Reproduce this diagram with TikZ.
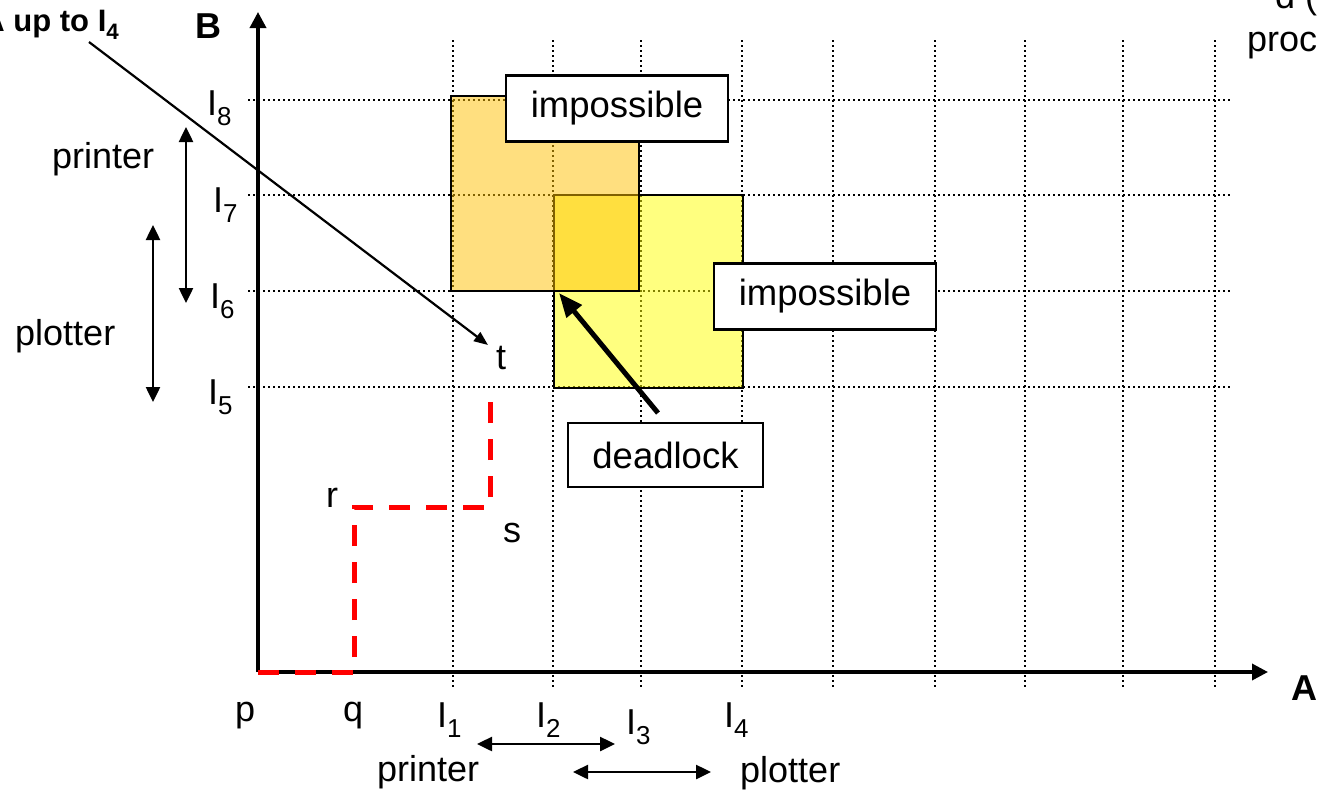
\documentclass[tikz,border=0pt]{standalone}
\usepackage{fontspec}
\setmainfont{Liberation Sans}
\usepackage{graphicx}
\usetikzlibrary{arrows.meta}
\newcommand\sbx[1]{\raisebox{-0.28em}{\scalebox{0.72}{#1}}}
\definecolor{orfill}{RGB}{255,192,0}
\definecolor{yefill}{RGB}{255,255,0}
\definecolor{dashred}{RGB}{255,0,0}
\begin{document}
\begin{tikzpicture}[x=1pt,y=-1pt,
  lbl/.style={inner sep=0pt, anchor=base west, font=\fontsize{36}{43}\selectfont},
  blbl/.style={inner sep=0pt, anchor=base west, font=\fontsize{36}{43}\selectfont\bfseries},
  gridline/.style={line width=2.4pt, dash pattern=on 2.4pt off 2.6pt},
  region/.style={draw=black, line width=2.5pt, fill opacity=0.5},
  tagbox/.style={draw=black, fill=white, line width=2.5pt, inner sep=0pt,
    font=\fontsize{36.5}{43}\selectfont},
  axis/.style={line width=3.5pt, -{Triangle[length=16pt,width=16pt]}},
  span/.style={line width=2.5pt, {Triangle[length=15pt,width=14pt]}-{Triangle[length=15pt,width=14pt]}},
  pathred/.style={dashred, line width=5pt, dash pattern=on 21pt off 16pt, line join=miter}]
\useasboundingbox (0,0) rectangle (1317,790);

% grid
\foreach \x in {453,553,641,742,833,935,1025,1123,1215}
  \draw[gridline] (\x,40) -- (\x,688);
\foreach \y in {100,195,291,387}
  \draw[gridline] (248,\y) -- (1230,\y);

% regions
\path[region, fill=yefill] (554,195) rectangle (743,388);
\path[region, fill=orfill] (451,96) rectangle (639,291);

% axes
\coordinate (O) at (258,672);
\coordinate (Btip) at (258,12);
\coordinate (Atip) at (1268,672);
\draw[axis] (O) -- (Btip);
\draw[axis] (O) -- (Atip);

% red progress path
\coordinate (q0) at (354,672);
\coordinate (r0) at (354,507);
\coordinate (s0) at (490,507);
\coordinate (t0) at (490,388);
\draw[pathred] (O) -- (q0) -- (r0) -- (s0) -- (t0);

% boxes
\node[tagbox, minimum width=222pt, minimum height=66pt] (imp1) at (617,108.5) {impossible};
\node[tagbox, minimum width=222pt, minimum height=66pt] (imp2) at (825,296.5) {impossible};
\node[tagbox, minimum width=195pt, minimum height=64pt] (dead) at (665.5,455) {deadlock};

% deadlock arrow
\coordinate (dlstart) at (658,413);
\coordinate (dl) at (559,293);
\draw[line width=5pt, -{Triangle[length=24pt,width=19pt]}] (dlstart) -- (dl);

% A up to I4 arrow
\node[inner sep=0pt, anchor=base east, font=\fontsize{31}{36}\selectfont\bfseries] (aupto) at (119,31) {A up to I\sbx{4}};
\coordinate (aup) at (89,42);
\coordinate (tt) at (488,345);
\draw[line width=2.2pt, -{Triangle[length=14pt,width=11pt]}] (aup) -- (tt);

% spans
\coordinate (prT) at (186,127); \coordinate (prB) at (186,303);
\coordinate (plT) at (153,225); \coordinate (plB) at (153,402);
\draw[span] (prT) -- (prB);
\draw[span] (plT) -- (plB);
\coordinate (prL) at (477,744); \coordinate (prR) at (615,744);
\coordinate (plL) at (573,772); \coordinate (plR) at (711,772);
\draw[span] (prL) -- (prR);
\draw[span] (plL) -- (plR);

% labels
\node[blbl] (Blab) at (195,38) {B};
\node[blbl] (Alab) at (1291,700) {A};
\node[lbl] (tr1) at (1275,8) {d (};
\node[lbl] (tr2) at (1247,51) {proc};

\node[lbl] (I8) at (207,115) {I\sbx{8}};
\node[lbl] (I7) at (213,212) {I\sbx{7}};
\node[lbl] (I6) at (210,308) {I\sbx{6}};
\node[lbl] (I5) at (208,404) {I\sbx{5}};

\node[lbl] (plab) at (235,721) {p};
\node[lbl] (qlab) at (343,721) {q};
\node[lbl] (I1) at (437,727) {I\sbx{1}};
\node[lbl] (I2) at (536,727) {I\sbx{2}};
\node[lbl] (I3) at (626,734) {I\sbx{3}};
\node[lbl] (I4) at (724,727) {I\sbx{4}};

\node[lbl] (prtL) at (52,168) {printer};
\node[lbl] (pltL) at (15,345) {plotter};
\node[lbl] (prtB) at (377,781) {printer};
\node[lbl] (pltB) at (740,782) {plotter};

\node[lbl] (rlab) at (326,507) {r};
\node[lbl] (slab) at (503,542) {s};
\node[lbl] (tlab) at (496,369) {t};
\end{tikzpicture}
\end{document}
